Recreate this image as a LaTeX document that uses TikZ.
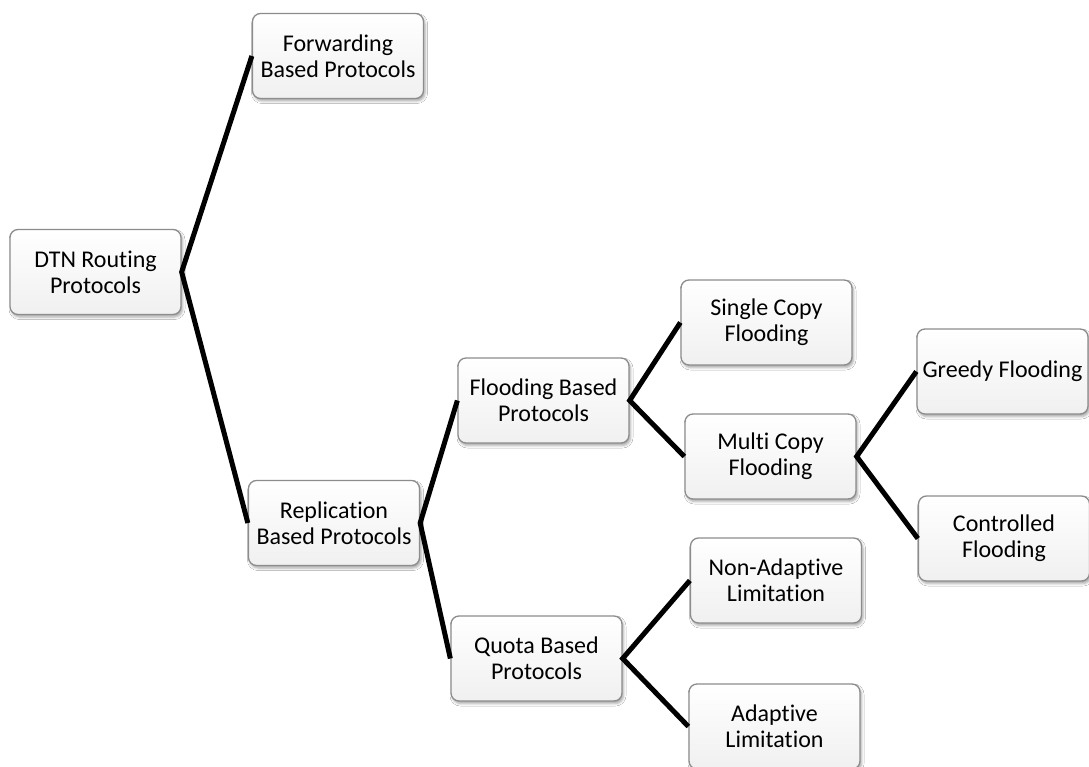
\documentclass[tikz,border=0pt]{standalone}
\usepackage{fontspec}
\setmainfont{Carlito}[Ligatures=NoCommon]
\usetikzlibrary{shadows.blur}
\definecolor{boxborder}{RGB}{140,140,140}
\definecolor{boxbottom}{RGB}{240,240,240}
\begin{document}
\begin{tikzpicture}[x=1pt,y=-1pt,
  box/.style={draw=boxborder, line width=1.3pt, rounded corners=8pt,
    top color=white, bottom color=boxbottom,
    minimum width=171pt, minimum height=85pt, inner sep=0pt, align=center,
    font=\fontsize{24}{26.3}\selectfont,
    blur shadow={shadow xshift=1.5pt, shadow yshift=-2.5pt, shadow blur radius=2.5pt, shadow opacity=35}},
  link/.style={line width=5pt, line join=miter, black}]
\fill[white] (0,0) rectangle (1089,767);
\useasboundingbox (0,0) rectangle (1089,767);

\node[box] (dtn) at (95.5,272) {DTN Routing\\Protocols};
\node[box] (fwd) at (338,56) {Forwarding\\Based Protocols};
\node[box] (rep) at (334,523) {Replication\\Based Protocols};
\node[box] (flo) at (543.5,400.5) {Flooding Based\\Protocols};
\node[box] (quo) at (536.5,658.5) {Quota Based\\Protocols};
\node[box] (sin) at (766.5,322.5) {Single Copy\\Flooding};
\node[box] (mul) at (770.5,456.5) {Multi Copy\\Flooding};
\node[box] (non) at (776,580.5) {Non-Adaptive\\Limitation};
\node[box] (ada) at (774.5,726.5) {Adaptive\\Limitation};
\node[box] (gre) at (1002.5,371.5) {Greedy Flooding};
\node[box] (con) at (1004,538.5) {Controlled\\Flooding};

\draw[link] (fwd.west) -- (dtn.east) -- (rep.west);
\draw[link] (flo.west) -- (rep.east) -- (quo.west);
\draw[link] (sin.west) -- (flo.east) -- (mul.west);
\draw[link] (non.west) -- (quo.east) -- (ada.west);
\draw[link] (gre.west) -- (mul.east) -- (con.west);
\end{tikzpicture}
\end{document}
